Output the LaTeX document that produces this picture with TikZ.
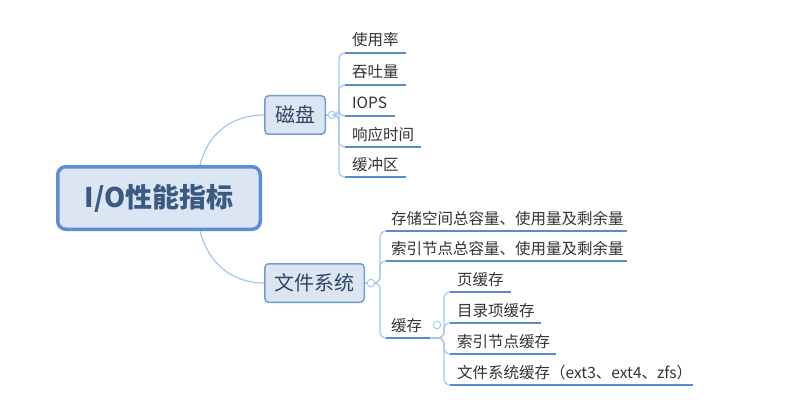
\documentclass[tikz,border=0pt]{standalone}
\usepackage{fontspec}
\setmainfont{Noto Sans CJK SC}
\usetikzlibrary{calc}
\definecolor{boxfill}{HTML}{DCE6F2}
\definecolor{boxdraw}{HTML}{6F9DD4}
\definecolor{rootdraw}{HTML}{5B8ED5}
\definecolor{conncol}{HTML}{A7C6EB}
\definecolor{ulcol}{HTML}{5A8CCB}
\definecolor{boxtext}{HTML}{2E4568}
\definecolor{roottext}{HTML}{3A5A84}
\definecolor{leaftext}{HTML}{333333}
\begin{document}
\begin{tikzpicture}[x=1pt,y=-1pt,
  leaf/.style={anchor=base west, inner sep=0pt, font=\fontsize{15.5}{18}\selectfont, text=leaftext},
  topic/.style={draw=boxdraw, line width=1.5pt, fill=boxfill, rounded corners=4pt,
    font=\fontsize{20}{24}\selectfont, text=boxtext, inner sep=0pt, minimum height=38.5pt},
  conn/.style={draw=conncol, line width=1.2pt, rounded corners=6pt},
  uline/.style={draw=ulcol, line width=2pt},
  knob/.style={circle, draw=conncol, fill=white, line width=1pt, minimum size=7.5pt, inner sep=0pt}
]
\useasboundingbox (0,0) rectangle (800,409);

% main topics
\node[draw=rootdraw, line width=3.5pt, fill=boxfill, rounded corners=8pt,
  minimum width=202.5pt, minimum height=62.5pt, inner sep=0pt,
  font=\fontsize{27}{30}\selectfont\bfseries, text=roottext] (root) at (159,198) {I/O性能指标};
\node[topic, minimum width=60.5pt] (disk) at (295,115) {磁盘};
\node[topic, minimum width=99.5pt] (fs) at (314.5,283) {文件系统};

\draw[conn] ($(root.north)+(41,0)$) .. controls +(8,-32) and +(-32,0) .. (disk.west);
\draw[conn] ($(root.south)+(41,0)$) .. controls +(8,32) and +(-32,0) .. (fs.west);

% knobs
\node[knob] (dk) at (332,115) {};
\node[knob] (fk) at (371,283) {};
\draw[conn] (disk.east) -- (dk.west);
\draw[conn] (fs.east) -- (fk.west);

% ---- disk children
\coordinate (dbx) at (339,0);
\foreach \n/\y/\e/\t in {d1/53/406/使用率, d2/85/406/吞吐量, d3/116/395/IOPS, d4/147/421/响应时间, d5/177/406/缓冲区}{
  \node[leaf] (\n) at (352,\y-7) {\t};
  \coordinate (\n s) at (345,\y);
  \coordinate (\n e) at (\e,\y);
  \draw[conn] (dk.east) -- (dk.east -| dbx) |- (\n s);
  \draw[uline] (\n s) -- (\n e);
}

% ---- file system children
\coordinate (fbx) at (380,0);
\foreach \n/\y/\e/\t in {f1/231/627/存储空间总容量、使用量及剩余量, f2/261/627/索引节点总容量、使用量及剩余量, f3/338/430/缓存}{
  \node[leaf] (\n) at (391,\y-7) {\t};
  \coordinate (\n s) at (386,\y);
  \coordinate (\n e) at (\e,\y);
  \draw[conn] (fk.east) -- (fk.east -| fbx) |- (\n s);
  \draw[uline] (\n s) -- (\n e);
}

% ---- cache children
\coordinate (cbx) at (444,0);
\foreach \n/\y/\e/\t in {c1/292/511/页缓存, c2/323/541/目录项缓存, c3/354/556/索引节点缓存, c4/385/693/文件系统缓存（ext3、ext4、zfs）}{
  \node[leaf] (\n) at (457,\y-7) {\t};
  \coordinate (\n s) at (450,\y);
  \coordinate (\n e) at (\e,\y);
  \draw[conn] (f3e) -- (f3e -| cbx) |- (\n s);
  \draw[uline] (\n s) -- (\n e);
}
\node[knob] (ck) at (437,325) {};
\end{tikzpicture}
\end{document}
